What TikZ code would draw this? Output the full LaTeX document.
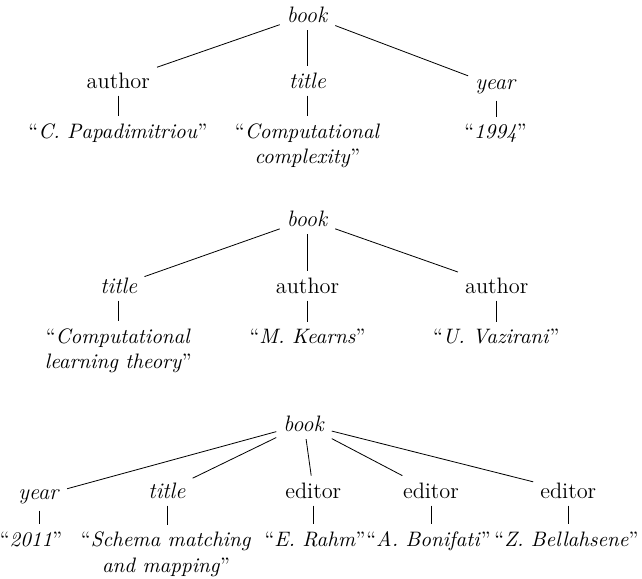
\documentclass[tikz,border=0pt]{standalone}
\usepackage{tikz}

\tikzset{
    elem/.style={font=\fontsize{11}{13.2}\selectfont, anchor=base},
    leaf/.style={font=\fontsize{10.3}{12.4}\selectfont, align=center, anchor=base},
}

\begin{document}
\begin{tikzpicture}[x=0.4926pt,y=-0.4926pt]
    \useasboundingbox (0,0) rectangle (642,579);
    \begin{scope}[thin]

    % first book (two-line leaves are placed at their last baseline)
    \node [elem] (b1) at (307.5,22.7) {\textit{book}};
    \node [elem] (a1) at (118.3,88.3) {author};
    \node [elem] (t1) at (307.5,88.3) {\textit{title}};
    \node [elem] (y1) at (496,89)     {\textit{year}};
    \node [leaf] (a1v) at (118,138.3)   {``\textit{C. Papadimitriou}''};
    \node [leaf] (t1v) at (307.5,163.3) {``\textit{Computational}\\\textit{complexity}''};
    \node [leaf] (y1v) at (495.5,138.3) {``\textit{1994}''};

    % second book
    \node [elem] (b2) at (307.5,226.7) {\textit{book}};
    \node [elem] (t2) at (118.8,293.3) {\textit{title}};
    \node [elem] (a2) at (307.5,293.3) {author};
    \node [elem] (a3) at (496.7,293.3) {author};
    \node [leaf] (t2v) at (118.3,368.3) {``\textit{Computational}\\\textit{learning theory}''};
    \node [leaf] (a2v) at (307.5,343.3) {``\textit{M. Kearns}''};
    \node [leaf] (a3v) at (496.3,343.3) {``\textit{U. Vazirani}''};

    % third book
    \node [elem] (b3) at (304,431.7)   {\textit{book}};
    \node [elem] (y3) at (39.2,499)    {\textit{year}};
    \node [elem] (t3) at (167,498.3)   {\textit{title}};
    \node [elem] (e1) at (313.3,498.3) {editor};
    \node [elem] (e2) at (431,498.3)   {editor};
    \node [elem] (e3) at (568.3,498.3) {editor};
    \node [leaf] (y3v) at (31,546)     {``\textit{2011}''};
    \node [leaf] (t3v) at (166,572)    {``\textit{Schema matching}\\\textit{and mapping}''};
    \node [leaf] (e1v) at (315,546)    {``\textit{E. Rahm}''};
    \node [leaf] (e2v) at (428.5,546)  {``\textit{A. Bonifati}''};
    \node [leaf] (e3v) at (566.5,546)  {``\textit{Z. Bellahsene}''};

    \foreach \c in {a1,t1,y1}       {\draw (b1) -- (\c);}
    \foreach \c in {t2,a2,a3}       {\draw (b2) -- (\c);}
    \foreach \c in {y3,t3,e1,e2,e3} {\draw (b3) -- (\c);}

    \foreach \p in {a1,t1,y1,t2,a2,a3,y3,t3,e1,e2,e3}{%
        \draw (\p.south) -- (\p.south |- \p v.north);}
    \end{scope}
\end{tikzpicture}
\end{document}
